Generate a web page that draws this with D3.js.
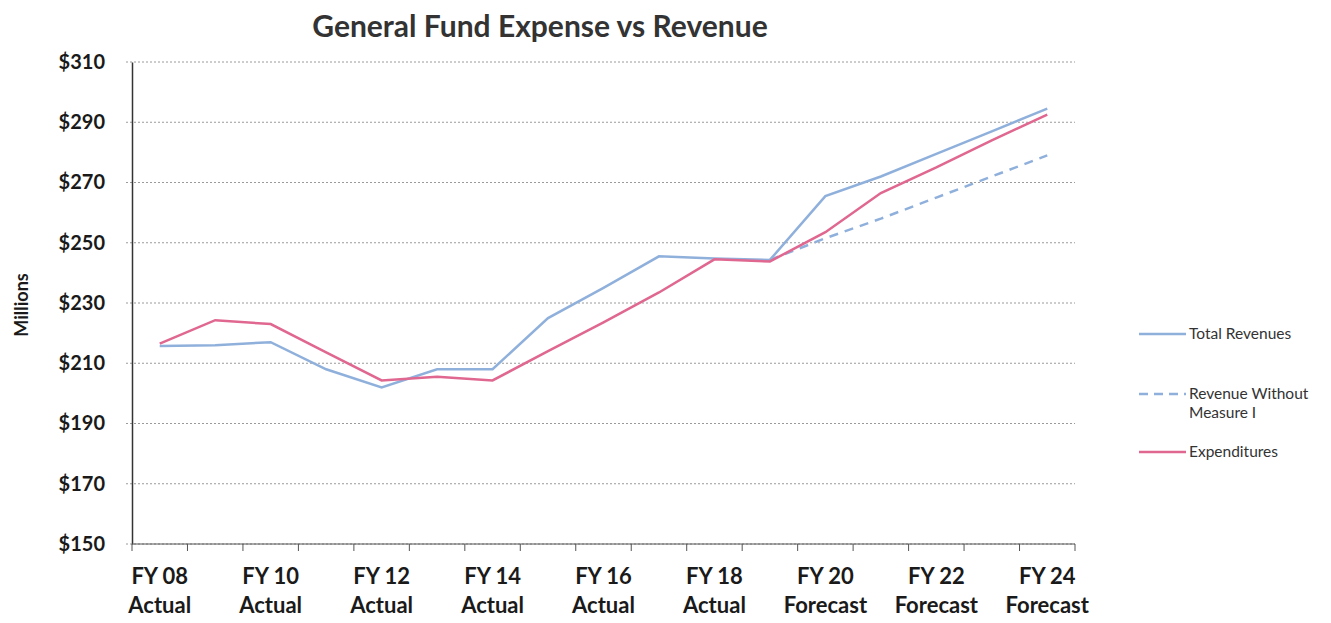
<!DOCTYPE html>
<html>
<head>
<meta charset="utf-8">
<script src="https://cdn.jsdelivr.net/npm/d3@7"></script>
<style>
  body { margin: 0; background: #fff; }
  svg { display: block; }
  text { font-family: Lato, "Open Sans", sans-serif; fill: #1a1a1a; }
</style>
</head>
<body>
<div id="chart"></div>
<script>
// fiscal years and the status shown on the second label line
const years = ['FY 08', 'FY 09', 'FY 10', 'FY 11', 'FY 12', 'FY 13', 'FY 14', 'FY 15', 'FY 16',
  'FY 17', 'FY 18', 'FY 19', 'FY 20', 'FY 21', 'FY 22', 'FY 23', 'FY 24'];
const status = ['Actual', 'Actual', 'Actual', 'Actual', 'Actual', 'Actual', 'Actual', 'Actual', 'Actual',
  'Actual', 'Actual', 'Actual', 'Forecast', 'Forecast', 'Forecast', 'Forecast', 'Forecast'];

// values in millions
const totalRevenues = [215.7, 216, 217, 208, 202, 208, 208, 225, 235, 245.5, 244.8, 244.3, 265.5, 272, 279.5, 287, 294.5];
const revenueWithoutMeasureI = [null, null, null, null, null, null, null, null, null, null, null, 244.3, 251.5, 258, 265, 272, 279];
const expenditures = [216.5, 224.3, 223, 213.6, 204.3, 205.5, 204.3, 214, 223.6, 233.5, 244.5, 243.8, 253.5, 266.5, 275, 284, 292.5];

const yTicks = [150, 170, 190, 210, 230, 250, 270, 290, 310];

const W = 1331, H = 623;
const mLeft = 132, mRight = 1075, mTop = 62, mBottom = 544;

const svg = d3.select('#chart').append('svg')
  .attr('width', W).attr('height', H);

const x = d3.scaleBand().domain(years).range([mLeft, mRight]).padding(0);
const y = d3.scaleLinear().domain([150, 310]).range([mBottom, mTop]);
const cx = d => x(d) + x.bandwidth() / 2;

// title
svg.append('text')
  .attr('x', 540).attr('y', 37)
  .attr('text-anchor', 'middle')
  .style('font-size', '30px').style('font-weight', 'bold')
  .style('fill', '#333')
  .text('General Fund Expense vs Revenue');

// gridlines
svg.append('g')
  .selectAll('line')
  .data(yTicks)
  .join('line')
  .attr('x1', mLeft - 6).attr('x2', mRight)
  .attr('y1', d => y(d)).attr('y2', d => y(d))
  .attr('stroke', '#9a9a9a')
  .attr('stroke-width', 1)
  .attr('stroke-dasharray', '2,2');

// y axis
const yAxis = svg.append('g')
  .attr('transform', `translate(${mLeft},0)`)
  .call(d3.axisLeft(y).tickValues(yTicks).tickSize(0).tickPadding(27).tickFormat(d => '$' + d));
yAxis.select('.domain').attr('stroke', '#333').attr('stroke-width', 1.5);
yAxis.selectAll('text').style('font-size', '20px').style('font-weight', 'bold').style('fill', '#1a1a1a');

// x axis: ticks sit on the band boundaries
const xAxis = svg.append('g').attr('transform', `translate(0,${mBottom})`);
xAxis.append('line')
  .attr('x1', mLeft).attr('x2', mRight)
  .attr('stroke', '#555').attr('stroke-width', 1);
xAxis.selectAll('.tk')
  .data(years.concat(['end']))
  .join('line')
  .attr('class', 'tk')
  .attr('x1', (d, i) => mLeft + i * x.bandwidth())
  .attr('x2', (d, i) => mLeft + i * x.bandwidth())
  .attr('y1', 0).attr('y2', 7)
  .attr('stroke', '#555');

const labelled = years.filter((d, i) => i % 2 === 0);
const lab = xAxis.selectAll('.lab')
  .data(labelled)
  .join('text')
  .attr('class', 'lab')
  .attr('text-anchor', 'middle')
  .style('font-size', '22px').style('font-weight', 'bold')
  .attr('transform', d => `translate(${cx(d)},0)`);
lab.append('tspan').attr('x', 0).attr('y', 40).text(d => d);
lab.append('tspan').attr('x', 0).attr('y', 69).text(d => status[years.indexOf(d)]);

// y axis title
svg.append('text')
  .attr('transform', 'translate(28,305) rotate(-90)')
  .attr('text-anchor', 'middle')
  .style('font-size', '18px').style('font-weight', 'bold')
  .text('Millions');

const blue = '#90b0dc';
const pink = '#e0678f';

const line = d3.line()
  .defined(d => d.v != null)
  .x(d => cx(d.year))
  .y(d => y(d.v));
const rows = vals => years.map((yr, i) => ({ year: yr, v: vals[i] }));

svg.append('path').datum(rows(revenueWithoutMeasureI))
  .attr('d', line).attr('fill', 'none')
  .attr('stroke', blue).attr('stroke-width', 2.5)
  .attr('stroke-dasharray', '9,7');
svg.append('path').datum(rows(totalRevenues))
  .attr('d', line).attr('fill', 'none')
  .attr('stroke', blue).attr('stroke-width', 2.5);
svg.append('path').datum(rows(expenditures))
  .attr('d', line).attr('fill', 'none')
  .attr('stroke', pink).attr('stroke-width', 2.5);

// legend
const legend = [
  { name: ['Total Revenues'], color: blue, dash: null, y: 334 },
  { name: ['Revenue Without', 'Measure I'], color: blue, dash: '9,6', y: 394 },
  { name: ['Expenditures'], color: pink, dash: null, y: 452 }
];
const lg = svg.append('g').selectAll('g').data(legend).join('g')
  .attr('transform', d => `translate(1139,${d.y})`);
lg.append('line')
  .attr('x1', 0).attr('x2', 47)
  .attr('stroke', d => d.color).attr('stroke-width', 2.5)
  .attr('stroke-dasharray', d => d.dash);
lg.each(function (d) {
  const t = d3.select(this).append('text')
    .attr('x', 50).attr('y', 5)
    .style('font-size', '15.5px').style('fill', '#333');
  d.name.forEach((s, i) => t.append('tspan').attr('x', 50).attr('dy', i === 0 ? 0 : 19).text(s));
});
</script>
</body>
</html>
